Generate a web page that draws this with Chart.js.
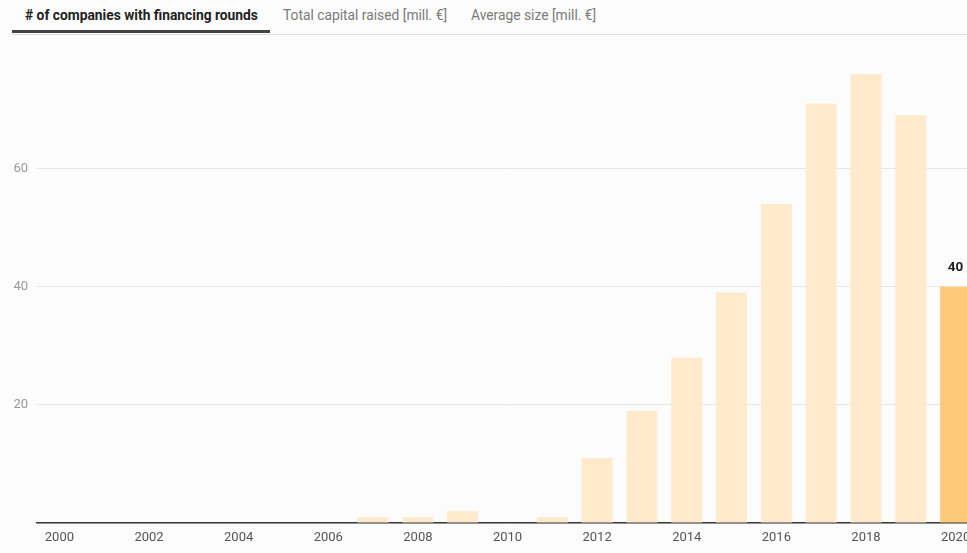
<!DOCTYPE html>
<html>
<head>
<meta charset="utf-8">
<script src="https://cdn.jsdelivr.net/npm/chart.js@4/dist/chart.umd.min.js"></script>
<style>
  html, body { margin: 0; padding: 0; background: #fcfcfc; overflow: hidden; width: 967px; height: 553px; font-family: Roboto, "Noto Sans", sans-serif; }
  #tabs { position: absolute; left: 0; top: 0; width: 967px; height: 35px; }
  #tabs .line { position: absolute; left: 12px; right: 0; top: 34px; height: 1px; background: #dcdcdc; }
  .tab { position: absolute; top: 7px; font-size: 13.8px; color: #7a7a7a; white-space: nowrap; }
  .tab.active { color: #222; font-weight: 700; }
  #underline { position: absolute; left: 12px; width: 258px; top: 30px; height: 3px; background: #444; }
  #wrap { position: absolute; left: 0; top: 40px; width: 978px; height: 513px; }
</style>
</head>
<body>
<div id="tabs"></div>
<div id="wrap"><canvas id="c"></canvas></div>
<script>
const years = ["2000","2001","2002","2003","2004","2005","2006","2007","2008","2009","2010","2011","2012","2013","2014","2015","2016","2017","2018","2019","2020"];
const companies = [0,0,0,0,0,0,0,1,1,2,0,1,11,19,28,39,54,71,76,69,40];
const tabLabels = ["# of companies with financing rounds","Total capital raised [mill. €]","Average size [mill. €]"];
const yTicks = [20,40,60];
const highlightYear = "2020";

// tabs as text
const tabsEl = document.getElementById('tabs');
tabsEl.innerHTML = '<div class="line"></div><div id="underline"></div>';
const tabLefts = [25, 283, 471];
tabLabels.forEach((t,i)=>{
  const d = document.createElement('div');
  d.className = 'tab' + (i===0 ? ' active' : '');
  d.style.left = tabLefts[i] + 'px';
  d.textContent = t;
  tabsEl.appendChild(d);
});

const valueLabel = {
  id: 'valueLabel',
  afterDatasetsDraw(chart) {
    const ctx = chart.ctx;
    const meta = chart.getDatasetMeta(0);
    const idx = years.indexOf(highlightYear);
    const el = meta.data[idx];
    ctx.save();
    ctx.font = 'bold 13.5px Roboto';
    ctx.fillStyle = '#222';
    ctx.textAlign = 'center';
    ctx.textBaseline = 'bottom';
    ctx.fillText(String(companies[idx]), el.x, el.y - 12);
    ctx.restore();
  }
};

new Chart(document.getElementById('c'), {
  type: 'bar',
  data: {
    labels: years,
    datasets: [{
      data: companies,
      backgroundColor: years.map(y => y === highlightYear ? '#fec979' : '#ffeacc'),
      categoryPercentage: 1,
      barPercentage: 0.69,
      borderWidth: 0
    }]
  },
  options: {
    responsive: true,
    maintainAspectRatio: false,
    animation: false,
    layout: { padding: { top: 34, right: 0, left: 0, bottom: 0 } },
    plugins: { legend: { display: false }, tooltip: { enabled: false } },
    scales: {
      x: {
        grid: { display: false, drawTicks: false },
        border: { display: true, color: '#3a3a3a', width: 1.5 },
        ticks: {
          autoSkip: false, maxRotation: 0, padding: 7,
          color: '#555', font: { family: 'Roboto', size: 13 },
          callback: function(v, i) { return i % 2 === 0 ? years[i] : ''; }
        },
        afterFit(s) { s.height = 30; }
      },
      y: {
        min: 0, max: 76,
        afterBuildTicks(s) { s.ticks = [0, ...yTicks].map(v => ({ value: v })); },
        grid: { color: '#e6e6e6', drawTicks: false, lineWidth: 1 },
        border: { display: false },
        ticks: {
          padding: 9, color: '#999', font: { family: 'Roboto', size: 13 },
          callback: v => v === 0 ? '' : v
        },
        afterFit(s) { s.width = 37; }
      }
    }
  },
  plugins: [valueLabel]
});
</script>
</body>
</html>
